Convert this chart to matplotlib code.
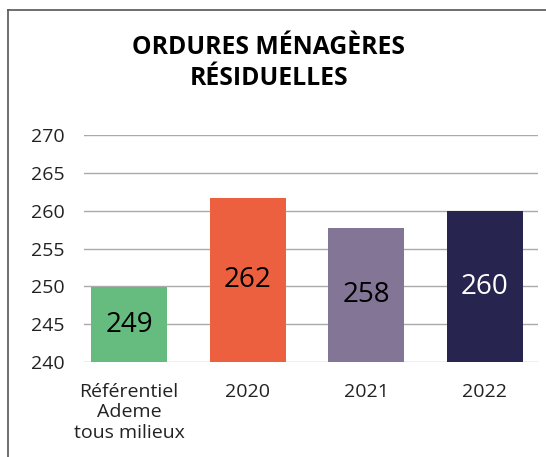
import matplotlib.pyplot as plt
from matplotlib.lines import Line2D

plt.rcParams['font.family'] = ['Open Sans', 'DejaVu Sans']

categories = ["Référentiel\nAdeme\ntous milieux", "2020", "2021", "2022"]
heights = [249.9, 261.7, 257.7, 259.9]
labels = ["249", "262", "258", "260"]
colors = ["#66BB7F", "#EC603F", "#837596", "#272450"]
label_colors = ["black", "black", "black", "white"]

W, H = 546, 457
fig = plt.figure(figsize=(W / 100, H / 100), dpi=100)
ax = fig.add_axes([84 / W, 1 - 362 / H, (538 - 84) / W, (362 - 135) / H])

x = range(len(categories))
bars = ax.bar(x, [h - 240 for h in heights], bottom=240, width=0.64, color=colors, zorder=3)
for b, lab, c in zip(bars, labels, label_colors):
    ax.text(b.get_x() + b.get_width() / 2, 240 + b.get_height() / 2, lab,
            ha='center', va='center', fontsize=20, color=c, zorder=4)

ax.set_ylim(240, 270)
ax.set_xlim(-0.38, 3.45)
ax.set_yticks(range(240, 271, 5))
ax.yaxis.grid(True, color='#aaaaaa', linewidth=1)
ax.set_axisbelow(True)
for s in ax.spines.values():
    s.set_visible(False)
ax.tick_params(axis='both', length=0, labelsize=14, colors='#222222')
ax.tick_params(axis='y', pad=14)
ax.tick_params(axis='x', pad=15)
ax.set_xticks(list(x))
ax.set_xticklabels(categories, linespacing=1.17)

fig.text(0.5 * (133 + 405) / W, 1 - 63 / H, "ORDURES MÉNAGÈRES\nRÉSIDUELLES",
         ha='center', va='center', fontsize=17.8, fontweight='bold', linespacing=1.28)

fig.add_artist(Line2D([8 / W, 1], [1 - 10 / H, 1 - 10 / H], color='#555555', lw=1.2))
fig.add_artist(Line2D([8 / W, 8 / W], [0, 1 - 10 / H], color='#555555', lw=1.2))

fig.savefig("out.png", dpi=100)
